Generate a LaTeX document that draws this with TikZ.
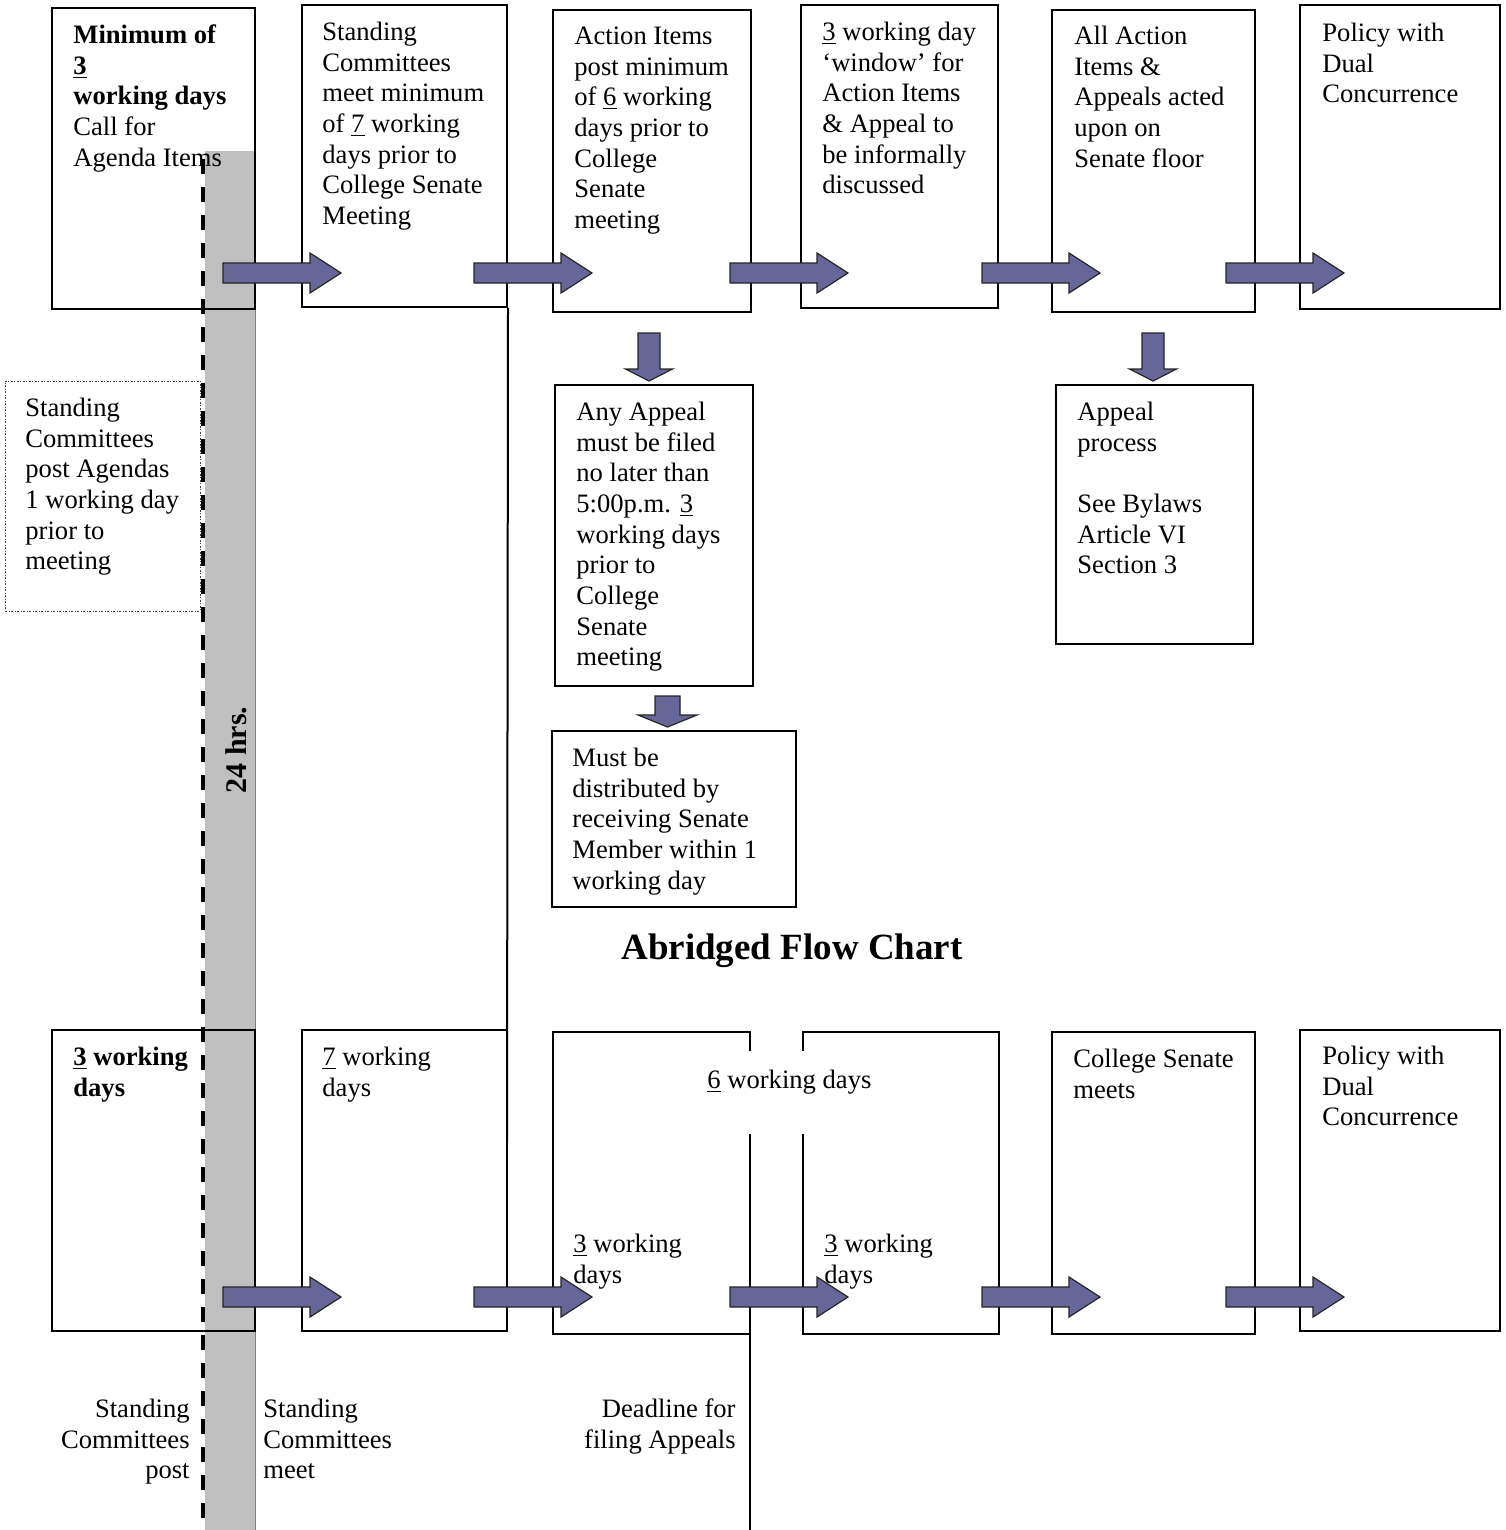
\documentclass[tikz,border=0pt]{standalone}
\usepackage{fontspec}
\setmainfont{Liberation Serif}
\usetikzlibrary{fit}
\definecolor{arrowfill}{RGB}{102,102,153}
\definecolor{band}{RGB}{192,192,192}
\tikzset{
  box/.style={draw=black, line width=1pt, inner sep=0pt},
  dotbox/.style={draw=black!75, line width=0.4pt, dash pattern=on 1.2pt off 0.7pt on 0.4pt off 0.7pt, inner sep=0pt},
  edge/.style={draw=black, line width=1pt},
  txt/.style={font=\fontsize{13.3pt}{15.35pt}\selectfont, align=left, inner sep=0pt, anchor=north west},
  rtxt/.style={font=\fontsize{13.3pt}{15.35pt}\selectfont, align=right, inner sep=0pt, anchor=north east},
  blockfill/.style={fill=arrowfill, draw=black!85, line width=0.6pt, line join=miter},
  pics/rarrow/.style={code={\draw[blockfill] (0,-10) -- (87,-10) -- (87,-20) -- (118,0) -- (87,20) -- (87,10) -- (0,10) -- cycle;}},
  pics/darrow/.style={code={\draw[blockfill] (-11,0) -- (-11,36) -- (-23.5,36) -- (0,48) -- (23.5,36) -- (11,36) -- (11,0) -- cycle;}},
  pics/darrowb/.style={code={\draw[blockfill] (-12.5,0) -- (-12.5,19) -- (-29.5,19) -- (0,31) -- (29.5,19) -- (12.5,19) -- (12.5,0) -- cycle;}},
}
\begin{document}
\begin{tikzpicture}[x=0.5pt, y=-0.5pt]
\useasboundingbox (0,0) rectangle (1505,1530);
\fill[white] (0,0) rectangle (1505,1530);
% gray band
\fill[band] (205,151) rectangle (255,1530);
\draw[gray, line width=0.4pt] (255,151) -- (255,1530);

% top row boxes
\node[box, fit={(52,8) (255,309)}] (b1) {};
\node[box, fit={(302,5) (507,307)}] (b2) {};
\node[box, fit={(553,10) (751,312)}] (b3) {};
\node[box, fit={(801,5) (998,308)}] (b4) {};
\node[box, fit={(1052,10) (1255,312)}] (b5) {};
\node[box, fit={(1300,5) (1500,309)}] (b6) {};
% middle boxes
\node[box, fit={(555,385) (753,686)}] (ba) {};
\node[box, fit={(552,731) (796,907)}] (bm) {};
\node[box, fit={(1056,385) (1253,644)}] (bp) {};
\node[dotbox, fit={(5,381) (200,611)}] (bd) {};
% bottom row boxes
\node[box, fit={(52,1030) (255,1331)}] (c1) {};
\node[box, fit={(302,1030) (507,1331)}] (c2) {};
\node[box, fit={(1052,1032) (1255,1334)}] (c5) {};
\node[box, fit={(1300,1030) (1500,1331)}] (c6) {};
% open boxes c3, c4
\draw[edge] (750,1051) -- (750,1032) -- (553,1032) -- (553,1334) -- (750,1334);
\draw[edge] (750,1134) -- (750,1530);
\draw[edge] (803,1051) -- (803,1032) -- (999,1032) -- (999,1334) -- (803,1334) -- (803,1134);
% long vertical line
\coordinate (v1end) at (507,1142);
\draw[edge] (b2.south east) -- (v1end);

% block arrows
\pic at (223,273) {rarrow};
\pic at (474,273) {rarrow};
\pic at (730,273) {rarrow};
\pic at (982,273) {rarrow};
\pic at (1226,273) {rarrow};
\pic at (223,1297) {rarrow};
\pic at (474,1297) {rarrow};
\pic at (730,1297) {rarrow};
\pic at (982,1297) {rarrow};
\pic at (1226,1297) {rarrow};
\pic at (649,333) {darrow};
\pic at (1153,333) {darrow};
\pic at (667.5,696) {darrowb};

% texts top row
\node[txt] (t1) at (73,21.5) {\textbf{\strut Minimum of}\\\textbf{\underline{3}}\\\textbf{working days}\\Call for\\Agenda Items};
\node[txt] (t2) at (322,18.5) {\strut Standing\\Committees\\meet minimum\\of \underline{7} working\\days prior to\\College Senate\\Meeting};
\node[txt] (t3) at (574,22.5) {\strut Action Items\\post minimum\\of \underline{6} working\\days prior to\\College\\Senate\\meeting};
\node[txt] (t4) at (822,18.5) {\strut\underline{3} working day\\‘window’ for\\Action Items\\\& Appeal to\\be informally\\discussed};
\node[txt] (t5) at (1074,22.5) {\strut All Action\\Items \&\\Appeals acted\\upon on\\Senate floor};
\node[txt] (t6) at (1322,19.5) {\strut Policy with\\Dual\\Concurrence};
% middle texts
\node[txt] (ta) at (576,398.5) {\strut Any Appeal\\must be filed\\no later than\\5:00p.m. \underline{3}\\working days\\prior to\\College\\Senate\\meeting};
\node[txt] (tm) at (572,744.5) {\strut Must be\\distributed by\\receiving Senate\\Member within 1\\working day};
\node[txt] (tp) at (1077,398.5) {\strut Appeal\\process\\\mbox{}\\See Bylaws\\Article VI\\Section 3};
\node[txt] (td) at (25,394.5) {\strut Standing\\Committees\\post Agendas\\1 working day\\prior to\\meeting};
% bottom texts
\node[txt] (tc1) at (73,1043.5) {\textbf{\strut\underline{3} working}\\\textbf{days}};
\node[txt] (tc2) at (322,1043.5) {\strut\underline{7} working\\days};
\node[txt] (t6wd) at (707,1066.5) {\strut\underline{6} working days};
\node[txt] (tc3) at (573,1230.5) {\strut\underline{3} working\\days};
\node[txt] (tc4) at (824,1230.5) {\strut\underline{3} working\\days};
\node[txt] (tc5) at (1073,1045.5) {\strut College Senate\\meets};
\node[txt] (tc6) at (1322,1042.5) {\strut Policy with\\Dual\\Concurrence};
\node[rtxt] (lpost) at (190,1395.5) {\strut Standing\\Committees\\post};
\node[txt] (lmeet) at (263,1395.5) {\strut Standing\\Committees\\meet};
\node[rtxt] (ldead) at (736,1395.5) {\strut Deadline for\\filing Appeals};

% dashed line
\draw[black, line width=2pt, dash pattern=on 7.5pt off 6.5pt] (203,159) -- (203,1530);

% title and 24 hrs
\node[font=\fontsize{18.5pt}{22pt}\selectfont\bfseries, anchor=base, inner sep=0pt] (title) at (792,959) {Abridged Flow Chart};
\node[font=\fontsize{15pt}{17pt}\selectfont\bfseries, rotate=90, inner sep=0pt] (hrs) at (236,750) {24 hrs.};
\end{tikzpicture}
\end{document}
